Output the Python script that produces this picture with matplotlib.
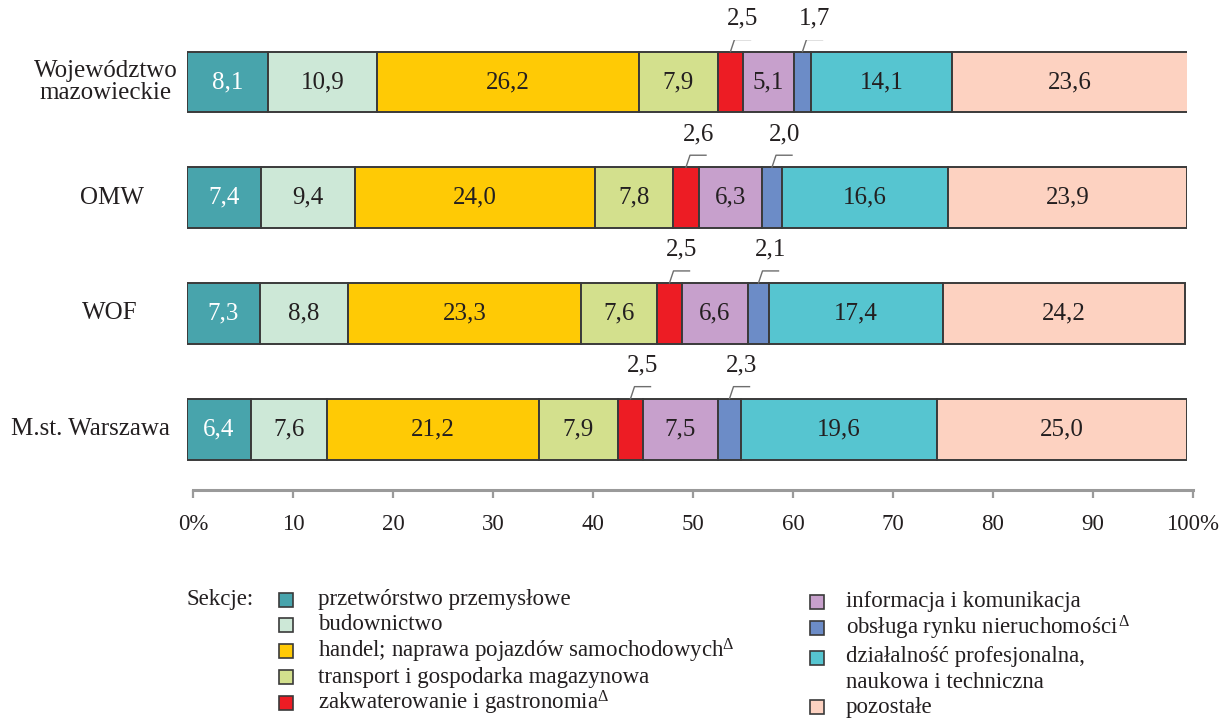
import matplotlib
matplotlib.use('Agg')
import matplotlib.pyplot as plt
from matplotlib.patches import Rectangle
from matplotlib.lines import Line2D
from matplotlib.transforms import blended_transform_factory

plt.rcParams['font.family'] = ['Liberation Serif', 'DejaVu Serif']
plt.rcParams['mathtext.fontset'] = 'custom'
plt.rcParams['mathtext.rm'] = 'Liberation Serif'
plt.rcParams['mathtext.it'] = 'Liberation Serif'

# ---------------- data ----------------
categories = ['Województwo\nmazowieckie', 'OMW', 'WOF', 'M.st. Warszawa']
section_names = [
    'przetwórstwo przemysłowe',
    'budownictwo',
    'handel; naprawa pojazdów samochodowych$^{\\Delta}$',
    'transport i gospodarka magazynowa',
    'zakwaterowanie i gastronomia$^{\\Delta}$',
    'informacja i komunikacja',
    'obsługa rynku nieruchomości$^{\\,\\Delta}$',
    'działalność profesjonalna,\nnaukowa i techniczna',
    'pozostałe',
]
przetworstwo = [8.1, 7.4, 7.3, 6.4]
budownictwo = [10.9, 9.4, 8.8, 7.6]
handel = [26.2, 24.0, 23.3, 21.2]
transport = [7.9, 7.8, 7.6, 7.9]
zakwaterowanie = [2.5, 2.6, 2.5, 2.5]
informacja = [5.1, 6.3, 6.6, 7.5]
obsluga = [1.7, 2.0, 2.1, 2.3]
dzialalnosc = [14.1, 16.6, 17.4, 19.6]
pozostale = [23.6, 23.9, 24.2, 25.0]
series = [przetworstwo, budownictwo, handel, transport, zakwaterowanie,
          informacja, obsluga, dzialalnosc, pozostale]
tick_values = [0, 10, 20, 30, 40, 50, 60, 70, 80, 90, 100]
tick_labels = ['0%', '10', '20', '30', '40', '50', '60', '70', '80', '90', '100%']

# ---------------- style ----------------
colors = ['#48A4AC', '#CDE8D7', '#FFCA05', '#D3E08D', '#ED1C24',
          '#C7A0CC', '#6C8CC7', '#56C5D0', '#FDD2C1']
text_colors = ['white'] + ['#231F20'] * 8
edge = '#3A3A3A'
W, H = 1219, 719
FS = 18
LFS = 16.5

fig = plt.figure(figsize=(W / 100, H / 100), dpi=100)
ax = fig.add_axes([187 / W, 1 - 490 / H, 1000 / W, 450 / H])
ax.set_xlim(0, 100)
ax.set_ylim(3.526, -0.363)
ax.axis('off')

bar_h = 0.527
px_y = 115.7  # pixels per y unit
for i, cat in enumerate(categories):
    left = 0.0
    for s, vals in enumerate(series):
        v = vals[i]
        ax.barh(i, v, left=left, height=bar_h, color=colors[s],
                edgecolor=edge, linewidth=1.4, zorder=2)
        xc = left + v / 2
        lab = f'{v:.1f}'.replace('.', ',')
        if v >= 3:
            ax.text(xc, i, lab, ha='center', va='center', fontsize=FS,
                    color=text_colors[s], zorder=3)
        else:
            top = i - bar_h / 2
            y_elb = top - 12 / px_y
            ax.add_line(Line2D([xc, xc + 0.4, xc + 2.0], [top, y_elb, y_elb],
                               color='#6E6E6E', lw=1.0, zorder=3))
            ax.text(xc + 1.25, top - 22 / px_y, lab, ha='center', va='bottom',
                    fontsize=FS, color='#231F20', zorder=3)
        left += v

# category labels
trans = blended_transform_factory(fig.transFigure, ax.transData)
label_x_px = [106, 112, 110, 90]
for i, cat in enumerate(categories):
    ax.text(label_x_px[i] / W, i, cat, transform=trans, ha='center',
            va='center', fontsize=FS, color='#231F20', linespacing=1.05)

# scale axis
axx = fig.add_axes([193 / W, 1 - 490 / H, 1000 / W, 0.001])
axx.set_xlim(0, 100)
axx.set_ylim(0, 1)
for sp in ['top', 'left', 'right']:
    axx.spines[sp].set_visible(False)
axx.spines['bottom'].set_color('#9A9A9A')
axx.spines['bottom'].set_linewidth(2.2)
axx.set_yticks([])
axx.set_xticks(tick_values)
axx.set_xticklabels(tick_labels)
axx.tick_params(axis='x', direction='out', length=6, width=1.6,
                color='#9A9A9A', pad=11, labelsize=16.5, labelcolor='#231F20')
axx.patch.set_alpha(0)

# legend
fig.text(187 / W, 1 - 599 / H, 'Sekcje:', ha='left', va='center',
         fontsize=LFS, color='#231F20')
left_rows = [600, 625, 651, 677, 703]
right_rows = [602, 628, 658, 707]
sq = 14
for k in range(9):
    if k < 5:
        xm, xt, yc = 279, 318, left_rows[k]
    else:
        xm, xt, yc = 810, 846, right_rows[k - 5]
    fig.patches.append(Rectangle(((xm) / W, 1 - (yc + sq / 2) / H), sq / W, sq / H,
                                 transform=fig.transFigure, facecolor=colors[k],
                                 edgecolor=edge, linewidth=1.2))
    va = 'top' if '\n' in section_names[k] else 'center'
    ytxt = yc - 12 if va == 'top' else yc
    fig.text(xt / W, 1 - ytxt / H, section_names[k], ha='left', va=va,
             fontsize=LFS, color='#231F20', linespacing=1.3)

fig.savefig('out.png', dpi=100)
